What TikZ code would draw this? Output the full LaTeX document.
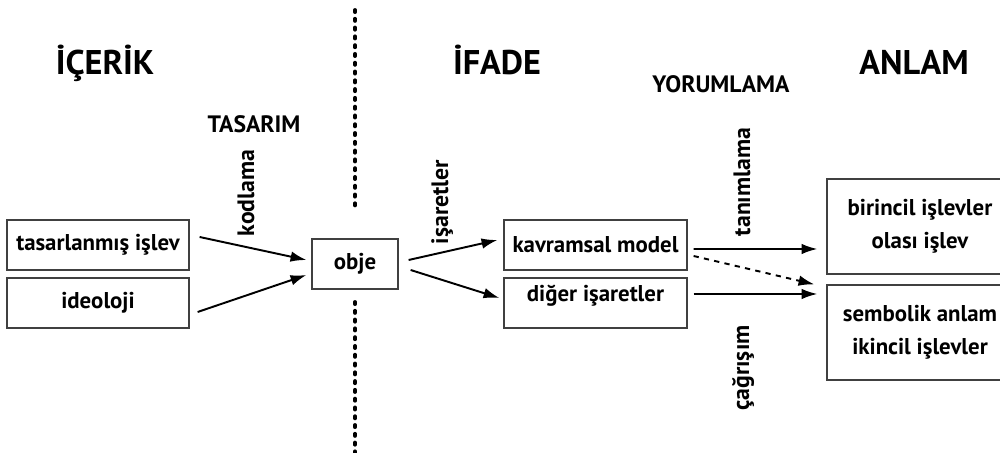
\documentclass[tikz,border=0pt]{standalone}
\usepackage{fontspec}
\setmainfont{PT Sans}
\usetikzlibrary{arrows.meta}
\tikzset{
  baslik/.style={font=\fontsize{19.5}{24}\selectfont\bfseries},
  ara/.style={font=\fontsize{13.5}{16}\selectfont\bfseries},
  etiket/.style={font=\fontsize{13.5}{16}\selectfont\bfseries,inner sep=0pt},
  kutu/.style={draw=black!75,line width=0.7pt,minimum height=10mm,inner sep=0pt,
    font=\fontsize{13}{18.5}\selectfont\bfseries,align=center},
  ok/.style={->,line width=1.1pt},
  noktali/.style={line width=2.2pt,line cap=round,dash pattern=on 1.2pt off 3.8pt}
}
\begin{document}
\begin{tikzpicture}[x=0.2mm,y=-0.2mm,>={Latex[length=9pt,width=6pt]}]
\useasboundingbox (0,0) rectangle (1000,453);
\clip (0,0) rectangle (1000,453);
% basliklar
\node[baslik,anchor=base] (icerik) at (105,75) {İÇERİK};
\node[baslik,anchor=base] (ifade) at (497,75) {İFADE};
\node[baslik,anchor=base] (anlam) at (914,75) {ANLAM};
\node[ara,anchor=base] (yorum) at (721,93) {YORUMLAMA};
\node[ara,anchor=base] (tasarim) at (254,133) {TASARIM};
% ayirici
\draw[noktali] (355,10) -- (355,212);
\draw[noktali] (355,302) -- (355,453);
% kutular
\node[kutu,minimum width=36.4mm] (tasar) at (98,245) {tasarlanmış işlev};
\node[kutu,minimum width=36.4mm] (ideo) at (98,303) {ideoloji};
\node[kutu,minimum width=17.2mm] (obje) at (355,264) {obje};
\node[kutu,minimum width=36.6mm] (kavram) at (595.5,245) {kavramsal model};
\node[kutu,minimum width=36.6mm,text depth=4mm] (diger) at (595.5,303) {diğer işaretler};
\node[kutu,minimum width=37.2mm,minimum height=19mm] (birincil) at (920,226.5)
  {birincil işlevler\\olası işlev};
\node[kutu,minimum width=37.2mm,minimum height=19mm] (sembolik) at (920,332.5)
  {sembolik anlam\\ikincil işlevler};
% oklar
\draw[ok] ([shift={(10,-8)}]tasar.east) -- ([shift={(-5,-4)}]obje.west);
\draw[ok] ([shift={(8,9)}]ideo.east) -- ([shift={(-5,11)}]obje.west);
\draw[ok] ([shift={(10,-4)}]obje.east) -- ([shift={(-6,-5)}]kavram.west);
\draw[ok] ([shift={(12,6)}]obje.east) -- ([shift={(-4,-5)}]diger.west);
\draw[ok] ([shift={(6,4)}]kavram.east) -- ([shift={(-9,22.5)}]birincil.west);
\draw[ok,dashed] ([shift={(6,11)}]kavram.east) -- ([shift={(-12,0)}]sembolik.north west);
\draw[ok] ([shift={(6,-9)}]diger.east) -- ([shift={(-9,-38.5)}]sembolik.west);
% dikey etiketler
\node[etiket,rotate=90,anchor=base] (kodlama) at (254,193) {kodlama};
\node[etiket,rotate=90,anchor=base] (isaret) at (448,202) {işaretler};
\node[etiket,rotate=90,anchor=base] (tanim) at (750,182) {tanımlama};
\node[etiket,rotate=90,anchor=base] (cagri) at (749,368) {çağrışım};
\end{tikzpicture}
\end{document}
